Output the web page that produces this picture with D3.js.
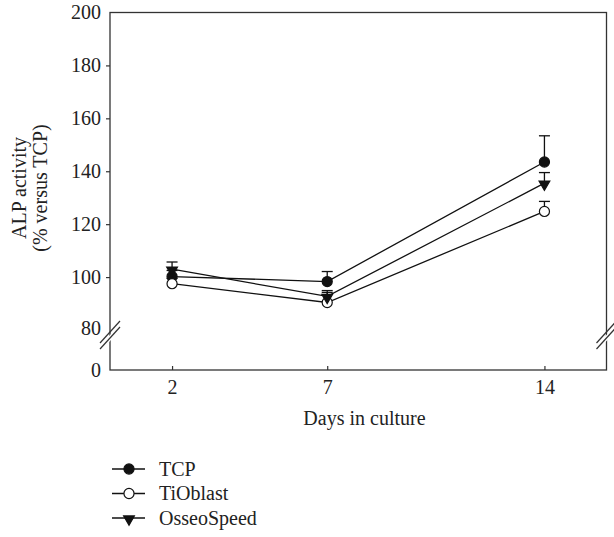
<!DOCTYPE html>
<html>
<head>
<meta charset="utf-8">
<script src="https://cdn.jsdelivr.net/npm/d3@7"></script>
<style>
  body { margin: 0; background: #fff; }
  svg text { font-family: "Liberation Serif", "Times New Roman", "DejaVu Serif", serif !important; fill: #222; }
</style>
</head>
<body>
<svg id="container"></svg>
<script>
const width = 614;
const height = 537;
const serif = '"Liberation Serif", "Times New Roman", "DejaVu Serif", serif';

// data
const days = [2, 7, 14];
const seriesNames = ["TCP", "TiOblast", "OsseoSpeed"];
const tcpMean = [100.2, 98.3, 143.5];
const tcpErr = [2.3, 3.8, 9.9];
const tiMean = [97.5, 90.4, 124.8];
const tiErr = [2.0, 3.8, 3.8];
const osMean = [103.0, 92.7, 135.5];
const osErr = [2.7, 2.2, 4.0];
const yTicks = [0, 80, 100, 120, 140, 160, 180, 200];
const xTicks = [2, 7, 14];

const series = [
  {name: seriesNames[0], mean: tcpMean, err: tcpErr, symbol: d3.symbolCircle, fill: "#111", size: 80, rot: 0},
  {name: seriesNames[1], mean: tiMean, err: tiErr, symbol: d3.symbolCircle, fill: "#fff", size: 80, rot: 0},
  {name: seriesNames[2], mean: osMean, err: osErr, symbol: d3.symbolTriangle, fill: "#111", size: 50, rot: 180}
];

const x = d3.scaleLinear().domain([0, 16]).range([110, 606.5]);
// broken axis: 0..80 squeezed, 80..200 linear
const y = d3.scaleLinear().domain([0, 80, 200]).range([370, 330, 12.5]);

const svg = d3.select("#container")
  .attr("width", width)
  .attr("height", height)
  .attr("viewBox", [0, 0, width, height])
  .style("font-family", serif);

const axisColor = "#333";

// frame
svg.append("rect")
  .attr("x", x(0)).attr("y", y(200))
  .attr("width", x(16) - x(0)).attr("height", y(0) - y(200))
  .attr("fill", "none").attr("stroke", axisColor).attr("stroke-width", 1.3);

// y axis
const yAxis = svg.append("g")
  .attr("transform", `translate(${x(0)},0)`)
  .call(d3.axisLeft(y).tickValues(yTicks).tickSize(4).tickPadding(5))
  .attr("font-family", serif);
yAxis.select(".domain").remove();
yAxis.selectAll(".tick line").attr("stroke", axisColor).attr("stroke-width", 1.2)
  .attr("display", d => d === 80 || d === 0 || d === 200 ? "none" : null);
yAxis.selectAll(".tick text")
  .attr("font-size", 20).style("font-family", serif).attr("fill", "#222")
  .attr("dy", d => d === 80 ? "0.22em" : "0.32em");

// x axis (ticks inside)
const xAxis = svg.append("g")
  .attr("transform", `translate(0,${y(0)})`)
  .call(d3.axisBottom(x).tickValues(xTicks).tickSizeInner(-4).tickSizeOuter(0).tickPadding(10))
  .attr("font-family", serif);
xAxis.select(".domain").remove();
xAxis.selectAll(".tick line").attr("stroke", axisColor).attr("stroke-width", 1.2);
xAxis.selectAll(".tick text")
  .attr("font-size", 20).style("font-family", serif).attr("fill", "#222");

// axis break marks
function breakMark(cx, cy) {
  const g = svg.append("g").attr("transform", `translate(${cx},${cy})`);
  g.append("polygon")
    .attr("points", "-10,9 10,-13 10,-7 -10,15")
    .attr("fill", "#fff");
  [-3, 3].forEach(o => {
    g.append("line")
      .attr("x1", -10).attr("y1", 12 + o - 3)
      .attr("x2", 10).attr("y2", -10 + o - 3)
      .attr("stroke", axisColor).attr("stroke-width", 1.2);
  });
}
breakMark(x(0), 337);
breakMark(x(16), 337);

// lines
const line = d3.line().x((d, i) => x(days[i])).y(d => y(d));
svg.append("g").selectAll("path")
  .data(series)
  .join("path")
  .attr("d", s => line(s.mean))
  .attr("fill", "none").attr("stroke", "#111").attr("stroke-width", 1.3);

// error bars (upper only)
series.forEach(s => {
  const g = svg.append("g").attr("stroke", "#111").attr("stroke-width", 1.3);
  days.forEach((d, i) => {
    const top = y(s.mean[i] + s.err[i]);
    g.append("line").attr("x1", x(d)).attr("x2", x(d)).attr("y1", y(s.mean[i])).attr("y2", top);
    g.append("line").attr("x1", x(d) - 5.5).attr("x2", x(d) + 5.5).attr("y1", top).attr("y2", top);
  });
});

// markers
series.forEach(s => {
  svg.append("g").selectAll("path")
    .data(s.mean)
    .join("path")
    .attr("d", d3.symbol().type(s.symbol).size(s.size))
    .attr("transform", (d, i) => `translate(${x(days[i])},${y(d) + (s.rot ? 1 : 0)}) rotate(${s.rot})`)
    .attr("fill", s.fill).attr("stroke", "#111").attr("stroke-width", 1.2);
});

// axis titles
svg.append("text")
  .attr("x", x(8.2)).attr("y", 425)
  .attr("text-anchor", "middle").attr("font-size", 20)
  .style("font-family", serif)
  .text("Days in culture");

const yt = svg.append("text")
  .attr("transform", "translate(26,188) rotate(-90)")
  .attr("text-anchor", "middle").attr("font-size", 20)
  .style("font-family", serif);
yt.append("tspan").attr("x", 0).attr("y", 0).text("ALP activity");
yt.append("tspan").attr("x", 0).attr("y", 21).text("(% versus TCP)");

// legend
const legend = svg.append("g").selectAll("g")
  .data(series)
  .join("g")
  .attr("transform", (d, i) => `translate(0,${469 + i * 24.5})`);
legend.append("line")
  .attr("x1", 112).attr("x2", 145).attr("y1", 0).attr("y2", 0)
  .attr("stroke", "#111").attr("stroke-width", 1.3);
legend.append("path")
  .attr("d", s => d3.symbol().type(s.symbol).size(s.size)())
  .attr("transform", s => `translate(129,${s.rot ? 1 : 0}) rotate(${s.rot})`)
  .attr("fill", s => s.fill).attr("stroke", "#111").attr("stroke-width", 1.2);
legend.append("text")
  .attr("x", 159).attr("y", 6.5)
  .attr("font-size", 20)
  .style("font-family", serif)
  .text(s => s.name);
</script>
</body>
</html>
